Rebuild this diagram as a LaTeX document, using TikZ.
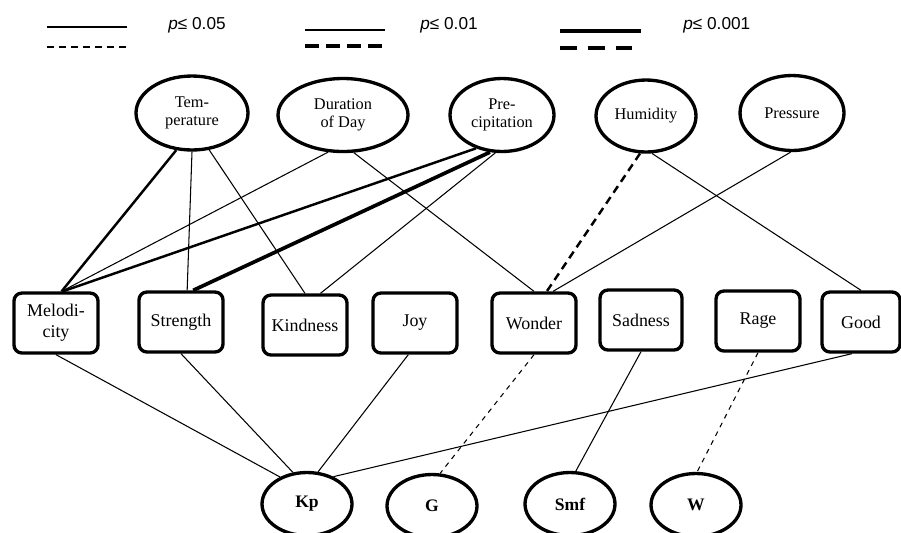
\documentclass[tikz,border=0pt]{standalone}
\usepackage{fontspec}
\setmainfont{Liberation Serif}
\newfontfamily\legendfont{Liberation Sans}
\usetikzlibrary{shapes.geometric}
\begin{document}
\begin{tikzpicture}[
   x=0.02cm,y=-0.02cm,
   cause/.style={ellipse,draw,line width=1.9pt,inner sep=0pt,align=center,font=\fontsize{9.3}{10.5}\selectfont},
   trait/.style={rectangle,rounded corners=4.5pt,draw,line width=1.9pt,inner sep=0pt,minimum width=1.68cm,minimum height=1.2cm,align=center,font=\fontsize{10.2}{12}\selectfont},
   factor/.style={ellipse,draw,line width=1.9pt,inner sep=0pt,minimum width=1.8cm,minimum height=1.26cm,font=\fontsize{10}{12}\selectfont\bfseries},
   legend/.style={anchor=west,inner sep=0pt,font=\legendfont\fontsize{9.8}{12}\selectfont},
   sig1/.style={line width=0.6pt},
   sig2/.style={line width=1.4pt},
   sig3/.style={line width=2.1pt},
   weakdash/.style={dash pattern=on 2.8pt off 2.8pt},
   middash/.style={dash pattern=on 4.5pt off 3pt}
 ]
  \useasboundingbox (0,0) rectangle (901,532);

  % legend
  \draw[line width=0.7pt] (47,27) -- (127,27);
  \draw[line width=0.9pt,dash pattern=on 4pt off 2.8pt] (47,47) -- (127,47);
  \node[legend] (l1) at (168,25) {\textit{p}≤ 0.05};
  \draw[line width=1.6pt] (305,30) -- (385,30);
  \draw[line width=1.8pt,dash pattern=on 8pt off 4pt] (305,46) -- (385,46);
  \node[legend] (l2) at (420,25) {\textit{p}≤ 0.01};
  \draw[line width=2.4pt] (560,31) -- (641,31);
  \draw[line width=2.6pt,dash pattern=on 9.6pt off 6.2pt] (560,48) -- (641,48);
  \node[legend] (l3) at (683,25) {\textit{p}≤ 0.001};

  % weather
  \node[cause,minimum width=2.24cm,minimum height=1.48cm] (temp) at (192,113) {Tem-\\perature};
  \node[cause,minimum width=2.6cm,minimum height=1.46cm] (dur) at (343,115) {Duration\\of Day};
  \node[cause,minimum width=2.08cm,minimum height=1.46cm] (prec) at (502,115) {Pre-\\cipitation};
  \node[cause,minimum width=2cm,minimum height=1.44cm] (hum) at (646,116) {Humidity};
  \node[cause,minimum width=2.08cm,minimum height=1.5cm] (pres) at (792,113) {Pressure};

  % music traits
  \node[trait] (melo) at (56,323) {Melodi-\\city};
  \node[trait] (str) at (181,322) {Strength};
  \node[trait] (kind) at (305,325) {Kindness};
  \node[trait] (joy) at (415,323) {Joy};
  \node[trait] (won) at (534,323) {Wonder};
  \node[trait,minimum width=1.64cm] (sad) at (641,320) {Sadness};
  \node[trait] (rage) at (758,321) {Rage};
  \node[trait,minimum width=1.56cm] (good) at (861,322) {Good};

  % factors
  \node[factor] (kp) at (307,504) {Kp};
  \node[factor] (g) at (432,506) {G};
  \node[factor] (smf) at (570,504) {Smf};
  \node[factor] (w) at (696,505) {W};

  \draw[sig2] (temp.247) -- (melo.80);
  \draw[sig1] (temp.270) -- (str.79);
  \draw[sig1] (temp.295) -- (kind.north);
  \draw[sig1] (dur.248) -- (melo.80);
  \draw[sig1] (dur.286) -- (won.north);
  \draw[sig2] (prec.232) -- (melo.78);
  \draw[sig3] (prec.252) -- (str.69);
  \draw[sig1] (prec.260) -- (kind.64);
  \draw[sig2,middash] (hum.261) -- (won.68);
  \draw[sig1] (hum.279) -- (good.north);
  \draw[sig1] (pres.268) -- (won.59);

  \draw[sig1] (melo.south) -- (kp.135);
  \draw[sig1] (str.south) -- (kp.114);
  \draw[sig1] (joy.258) -- (kp.71);
  \draw[sig1] (good.254) -- (kp.46);
  \draw[sig1,weakdash] (won.south) -- (g.76);
  \draw[sig1] (sad.south) -- (smf.80);
  \draw[sig1,weakdash] (rage.south) -- (w.88);
 \end{tikzpicture}
\end{document}
